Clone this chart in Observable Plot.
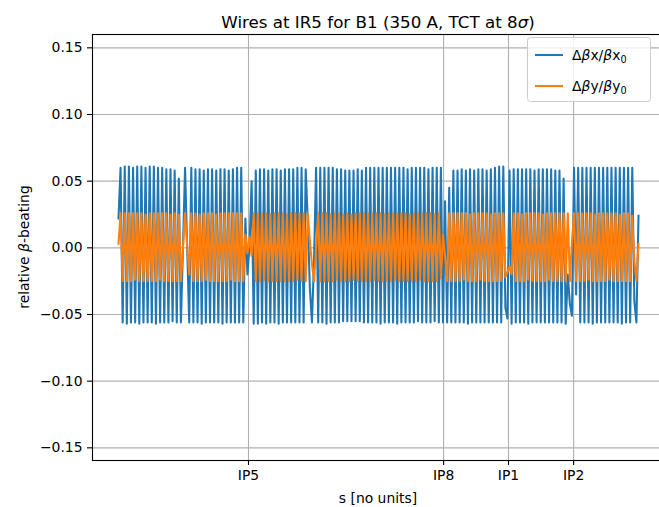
<!DOCTYPE html>
<html><head><meta charset="utf-8">
<script src="https://cdn.jsdelivr.net/npm/d3@7"></script>
<script src="https://cdn.jsdelivr.net/npm/@observablehq/plot@0.6"></script>
<style>body{margin:0;background:#fff;} svg{display:block}</style>
</head><body><div id="chart"></div>
<script>
// ---- data: relative beta-beating sampled once per arc cell (index = cell along the ring, starting at IP3)
const titleText = "Wires at IR5 for B1 (350 A, TCT at 8";
const ipS = [62.5, 156.3, 187.5, 218.8];
const ipLabels = ["IP5", "IP8", "IP1", "IP2"];
const yTicks = [-0.15, -0.10, -0.05, 0.00, 0.05, 0.10, 0.15];

// Δβx/βx0
const bxArc34 = [0.022,0.060,-0.056,0.061,-0.057,0.061,-0.056,0.060,-0.056,0.061,-0.057,0.061,-0.056,0.060,-0.056,0.061,-0.056,0.061,-0.057,0.060,-0.056,0.060,-0.056,0.059,-0.056,0.059,-0.055,0.058,-0.056,0.052];
const bxIR4 = [-0.056,0.000,0.060,0.001,-0.056];
const bxArc45 = [0.060,-0.056,0.059,-0.056,0.059,-0.057,0.058,-0.056,0.059,-0.056,0.059,-0.056,0.058,-0.056,0.059,-0.057,0.059,-0.056,0.058,-0.056,0.059,-0.056,0.060,-0.056,0.060];
const bxIR5 = [-0.056,0.022,-0.020,0.002,0.050];
const bxArc56 = [-0.057,0.058,-0.057,0.059,-0.056,0.059,-0.057,0.058,-0.056,0.059,-0.056,0.059,-0.057,0.058,-0.056,0.059,-0.056,0.059,-0.056,0.059,-0.056,0.060,-0.056,0.060,-0.056];
const bxIR6 = [0.059,0.020,-0.030,-0.056,-0.010,0.060];
const bxArc678 = [-0.056,0.060,-0.056,0.060,-0.057,0.060,-0.056,0.060,-0.056,0.059,-0.056,0.059,-0.055,0.058,-0.055,0.058,-0.055,0.058,-0.055,0.059,-0.055,0.058,-0.056,0.060,-0.056,0.060,-0.056,0.060,-0.056,0.060,-0.057,0.060,-0.056,0.060,-0.056,0.060,-0.056,0.060,-0.057,0.060,-0.056,0.060,-0.056,0.059,-0.056,0.060,-0.056,0.060,-0.055,0.060,-0.056,0.060,-0.056,0.059,-0.056,0.060,-0.055,0.060,-0.056,0.060];
const bxIR8 = [-0.056,0.035,-0.056,0.045,-0.056,0.058];
const bxArc81 = [-0.056,0.058,-0.056,0.059,-0.056,0.058,-0.057,0.059,-0.056,0.058,-0.056,0.059,-0.056,0.059,-0.056,0.058,-0.056,0.059,-0.056,0.060,-0.056,0.061,-0.056,0.061];
const bxIR1 = [-0.045,-0.053,0.058,-0.057];
const bxArc12 = [0.059,-0.056,0.059,-0.056,0.059,-0.056,0.059,-0.057,0.059,-0.056,0.058,-0.056,0.059,-0.056,0.059,-0.056,0.059,-0.056,0.059,-0.056,0.058,-0.056,0.058,-0.056,0.052];
const bxIR2 = [-0.057,-0.020,-0.042,-0.051,0.060,-0.035];
const bxArc23 = [0.060,-0.056,0.060,-0.056,0.060,-0.056,0.060,-0.057,0.060,-0.056,0.060,-0.056,0.060,-0.056,0.060,-0.056,0.060,-0.056,0.060,-0.056,0.060,-0.057,0.060,-0.056,0.060,-0.056,0.060];
const bxEnd = [-0.040,-0.056,0.024];

// Δβy/βy0
const byArc34 = [0.003,0.026,-0.025,0.026,-0.025,0.026,-0.025,0.026,-0.024,0.026,-0.025,0.026,-0.025,0.025,-0.025,0.026,-0.025,0.026,-0.025,0.026,-0.024,0.026,-0.025,0.026,-0.025,0.025,-0.025,0.026,-0.025,0.025];
const byIR4 = [-0.025,0.000,0.026,0.002,-0.020];
const byArc45 = [0.026,-0.025,0.026,-0.025,0.025,-0.025,0.026,-0.024,0.026,-0.025,0.026,-0.025,0.025,-0.025,0.026,-0.025,0.026,-0.025,0.026,-0.024,0.026,-0.025,0.026,-0.025,0.026];
const byIR5 = [-0.025,0.010,-0.004,0.008,-0.006];
const byArc56 = [0.026,-0.025,0.026,-0.025,0.026,-0.024,0.026,-0.025,0.025,-0.025,0.026,-0.025,0.026,-0.025,0.026,-0.025,0.025,-0.025,0.026,-0.025,0.026,-0.024,0.026,-0.025,0.026];
const byIR6 = [-0.025,0.026,0.005,-0.012,-0.025,0.000];
const byArc678 = [0.026,-0.025,0.026,-0.025,0.026,-0.025,0.025,-0.025,0.026,-0.024,0.026,-0.025,0.025,-0.025,0.026,-0.025,0.025,-0.024,0.026,-0.025,0.026,-0.025,0.026,-0.025,0.026,-0.025,0.026,-0.024,0.026,-0.025,0.026,-0.025,0.025,-0.025,0.026,-0.025,0.026,-0.024,0.026,-0.025,0.026,-0.025,0.026,-0.025,0.025,-0.025,0.026,-0.025,0.026,-0.024,0.026,-0.025,0.026,-0.025,0.026,-0.025,0.025,-0.025,0.026,-0.023];
const byIR8 = [0.010,-0.006,-0.025,0.026,-0.025,0.026];
const byArc81 = [-0.025,0.026,-0.025,0.026,-0.024,0.026,-0.025,0.025,-0.025,0.026,-0.025,0.026,-0.024,0.026,-0.025,0.026,-0.025,0.025,-0.025,0.026,-0.025,0.026,-0.025,0.026];
const byIR1 = [-0.022,-0.018,-0.014,-0.020];
const byArc12 = [0.026,-0.025,0.026,-0.025,0.025,-0.025,0.026,-0.024,0.026,-0.025,0.026,-0.025,0.026,-0.025,0.025,-0.025,0.026,-0.024,0.026,-0.025,0.026,-0.025,0.026,-0.025,0.026];
const byIR2 = [-0.025,0.026,-0.025,0.004,0.026,-0.025];
const byArc23 = [0.026,-0.025,0.026,-0.025,0.026,-0.024,0.026,-0.025,0.025,-0.025,0.026,-0.025,0.026,-0.025,0.026,-0.024,0.026,-0.025,0.026,-0.025,0.025,-0.025,0.026,-0.025,0.026,-0.025,0.024];
const byEnd = [-0.010,-0.025,0.003];

const bx = [].concat(bxArc34,bxIR4,bxArc45,bxIR5,bxArc56,bxIR6,bxArc678,bxIR8,bxArc81,bxIR1,bxArc12,bxIR2,bxArc23,bxEnd);
const by = [].concat(byArc34,byIR4,byArc45,byIR5,byArc56,byIR6,byArc678,byIR8,byArc81,byIR1,byArc12,byIR2,byArc23,byEnd);
const data = bx.map((v, i) => ({s: i, bx: v, by: by[i]}));

const FONT = "'DejaVu Sans', 'Liberation Sans', sans-serif";
const chart = Plot.plot({
  width: 659, height: 507,
  marginTop: 34, marginBottom: 47, marginLeft: 92, marginRight: -5,
  style: {fontFamily: FONT, fontSize: "13.9px", background: "white", color: "black"},
  x: {domain: [-12.5, 262.5]},
  y: {domain: [-0.1595, 0.16]},
  marks: [
    Plot.gridX(ipS, {stroke: "#b0b0b0", strokeOpacity: 1, strokeWidth: 1.1}),
    Plot.gridY(yTicks, {stroke: "#b0b0b0", strokeOpacity: 1, strokeWidth: 1.1}),
    Plot.line(data, {x: "s", y: "bx", stroke: "#1f77b4", strokeWidth: 2.08, strokeLinejoin: "round", strokeLinecap: "square"}),
    Plot.line(data, {x: "s", y: "by", stroke: "#ff7f0e", strokeWidth: 2.08, strokeLinejoin: "round", strokeLinecap: "square"}),
    Plot.frame({stroke: "black", strokeWidth: 1.1}),
    Plot.axisX(ipS, {tickFormat: d => ipLabels[ipS.indexOf(d)], tickSize: 5, tickPadding: 5, strokeWidth: 1.1, label: null, fontSize: 13.9}),
    Plot.axisY(yTicks, {tickFormat: d3.format(".2f"), tickSize: 5, tickPadding: 5, strokeWidth: 1.1, label: null, fontSize: 13.9})
  ]
});
document.getElementById("chart").appendChild(chart);

const svg = d3.select(chart);
// title
const t = svg.append("text").attr("x", 378).attr("y", 28).attr("text-anchor", "middle")
  .attr("font-family", FONT).attr("font-size", 16.7).attr("fill", "black");
t.append("tspan").text(titleText);
t.append("tspan").attr("font-style", "italic").text("σ");
t.append("tspan").text(")");
// x label
svg.append("text").attr("x", 378).attr("y", 503).attr("text-anchor", "middle")
  .attr("font-family", FONT).attr("font-size", 13.9).attr("fill", "black").text("s [no units]");
// y label
const yl = svg.append("text").attr("transform", "translate(29,247) rotate(-90)").attr("text-anchor", "middle")
  .attr("font-family", FONT).attr("font-size", 13.9).attr("fill", "black");
yl.append("tspan").text("relative ");
yl.append("tspan").attr("font-style", "italic").text("β");
yl.append("tspan").text("-beating");
// legend
const lg = svg.append("g").attr("font-family", FONT).attr("font-size", 13.9).attr("text-anchor", "start");
lg.append("rect").attr("x", 527.5).attr("y", 37.5).attr("width", 123).attr("height", 64).attr("rx", 3)
  .attr("fill", "white").attr("fill-opacity", 0.8).attr("stroke", "#cccccc").attr("stroke-width", 1);
const entries = [{c: "#1f77b4", v: "x", y: 55}, {c: "#ff7f0e", v: "y", y: 86}];
entries.forEach(e => {
  lg.append("line").attr("x1", 535).attr("x2", 563).attr("y1", e.y).attr("y2", e.y)
    .attr("stroke", e.c).attr("stroke-width", 2.08);
  const tx = lg.append("text").attr("x", 572).attr("y", e.y + 5).attr("fill", "black").attr("text-anchor", "start");
  tx.append("tspan").text("Δ");
  tx.append("tspan").attr("font-style", "italic").text("β");
  tx.append("tspan").text(e.v + "/");
  tx.append("tspan").attr("font-style", "italic").text("β");
  tx.append("tspan").text(e.v);
  tx.append("tspan").attr("font-size", 9.7).attr("dy", 3).text("0");
});
</script>
</body></html>
